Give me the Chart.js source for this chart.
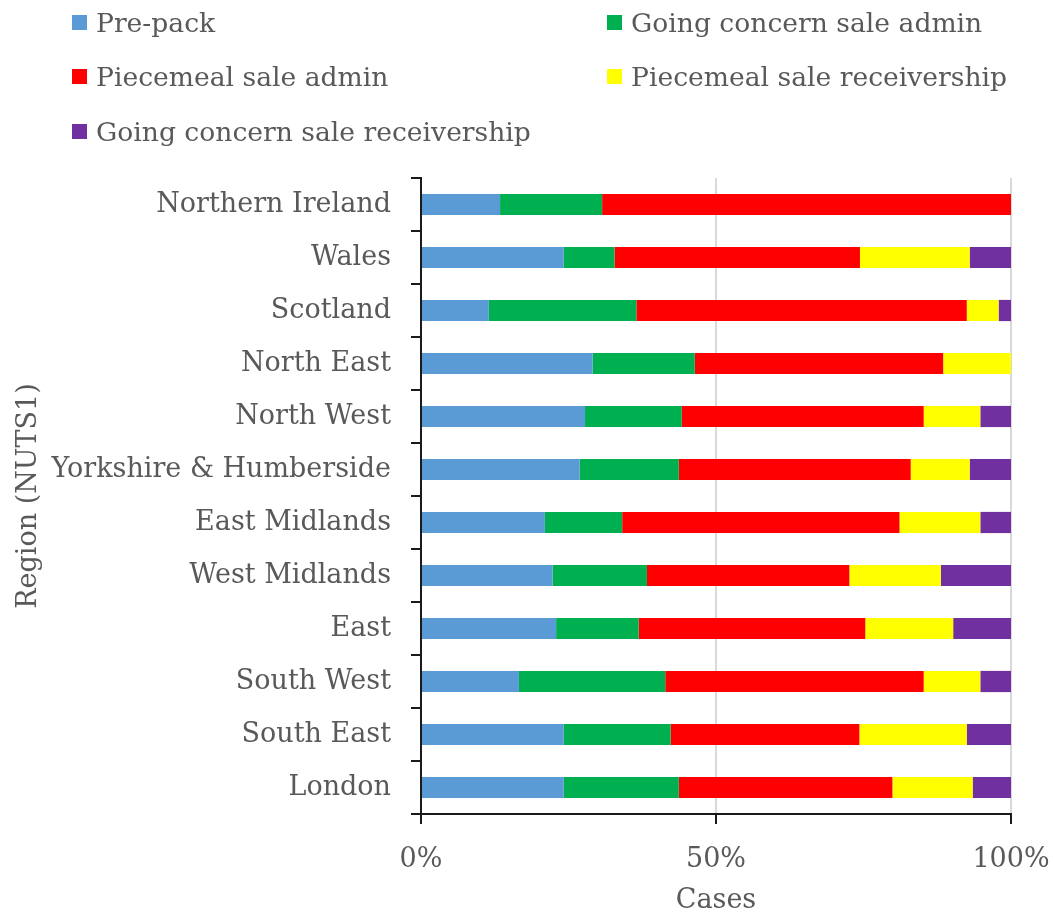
<!DOCTYPE html>
<html>
<head>
<meta charset="utf-8">
<script src="https://cdn.jsdelivr.net/npm/chart.js@4/dist/chart.umd.min.js"></script>
<style>
    html, body { margin: 0; padding: 0; background: #fff; overflow: hidden; }
    #wrap { position: relative; width: 1053px; height: 913px; }
    #chart { position: absolute; left: 0; top: 0; }
    #legend {
        position: absolute; left: 72px; top: 6px;
        display: grid; grid-template-columns: 535px 420px; grid-auto-rows: 54.5px;
        font-family: "DejaVu Serif", serif; font-size: 26.6px; color: #595959;
    }
    .item { display: flex; align-items: center; height: 32px; white-space: nowrap; }
    .box { width: 15px; height: 15px; margin-right: 9px; flex: none; }
</style>
</head>
<body>
<div id="wrap">
    <canvas id="chart" width="1053" height="913"></canvas>
    <div id="legend"></div>
</div>
<script>
// regions, top to bottom
const regions = ["Northern Ireland", "Wales", "Scotland", "North East", "North West",
    "Yorkshire & Humberside", "East Midlands", "West Midlands", "East", "South West",
    "South East", "London"];

// share of cases (%) per sale type
const prePack          = [13.4, 24.2, 11.5, 29.1, 27.8, 26.9, 21.0, 22.3, 22.9, 16.6, 24.2, 24.2];
const goingConcernAdm  = [17.3,  8.6, 25.0, 17.3, 16.4, 16.8, 13.1, 16.0, 14.0, 24.8, 18.1, 19.5];
const piecemealAdm     = [69.3, 41.6, 56.0, 42.1, 41.0, 39.3, 47.0, 34.3, 38.4, 43.8, 32.0, 36.2];
const piecemealRec     = [ 0.0, 18.6,  5.4, 11.5,  9.6, 10.0, 13.7, 15.5, 14.9,  9.6, 18.2, 13.6];
const goingConcernRec  = [ 0.0,  7.0,  2.1,  0.0,  5.2,  7.0,  5.2, 11.9,  9.8,  5.2,  7.5,  6.5];

const xTicks = [0, 50, 100];

const series = [
    { label: "Pre-pack", data: prePack, color: "#5B9BD5" },
    { label: "Going concern sale admin", data: goingConcernAdm, color: "#00B050" },
    { label: "Piecemeal sale admin", data: piecemealAdm, color: "#FF0000" },
    { label: "Piecemeal sale receivership", data: piecemealRec, color: "#FFFF00" },
    { label: "Going concern sale receivership", data: goingConcernRec, color: "#7030A0" }
];

const textColor = "#595959";
const axisColor = "#1a1a1a";
const fontSize = 27;

Chart.defaults.font.family = "'DejaVu Serif', serif";
Chart.defaults.color = textColor;

// legend laid out in two columns like the original
const legendEl = document.getElementById("legend");
series.forEach(function (s) {
    const item = document.createElement("div");
    item.className = "item";
    const box = document.createElement("span");
    box.className = "box";
    box.style.background = s.color;
    item.appendChild(box);
    item.appendChild(document.createTextNode(s.label));
    legendEl.appendChild(item);
});

new Chart(document.getElementById("chart"), {
    type: "bar",
    data: {
        labels: regions,
        datasets: series.map(function (s) {
            return {
                label: s.label,
                data: s.data,
                backgroundColor: s.color,
                borderWidth: 0,
                barPercentage: 1,
                categoryPercentage: 0.4
            };
        })
    },
    options: {
        indexAxis: "y",
        responsive: false,
        animation: false,
        layout: { padding: { top: 178, right: 42, left: 8, bottom: 0 } },
        plugins: {
            legend: { display: false },
            tooltip: { enabled: false }
        },
        scales: {
            x: {
                stacked: true,
                min: 0,
                max: 100,
                afterBuildTicks: function (scale) {
                    scale.ticks = xTicks.map(function (v) { return { value: v }; });
                },
                afterFit: function (scale) {
                    scale.height = 99;
                    scale.paddingLeft = 0;
                    scale.paddingRight = 0;
                },
                ticks: {
                    padding: 20,
                    font: { size: fontSize },
                    color: textColor,
                    callback: function (v) { return v + "%"; }
                },
                grid: {
                    color: function (ctx) { return ctx.tick && ctx.tick.value === 0 ? "rgba(0,0,0,0)" : "#d9d9d9"; },
                    lineWidth: 2,
                    tickColor: axisColor,
                    tickWidth: 2,
                    tickLength: 10
                },
                border: { color: axisColor, width: 2 },
                title: {
                    display: true,
                    text: "Cases",
                    font: { size: fontSize },
                    color: textColor,
                    padding: { top: 0, bottom: -4 }
                }
            },
            y: {
                stacked: true,
                afterFit: function (scale) {
                    scale.width = 413;
                    scale.paddingTop = 0;
                    scale.paddingBottom = 0;
                },
                ticks: {
                    padding: 20,
                    font: { size: fontSize },
                    color: textColor
                },
                grid: {
                    drawOnChartArea: false,
                    color: axisColor,
                    lineWidth: 2,
                    tickLength: 10
                },
                border: { color: axisColor, width: 2 },
                title: {
                    display: true,
                    text: "Region (NUTS1)",
                    font: { size: fontSize },
                    color: textColor,
                    padding: { top: 5, bottom: 0 }
                }
            }
        }
    }
});
</script>
</body>
</html>
